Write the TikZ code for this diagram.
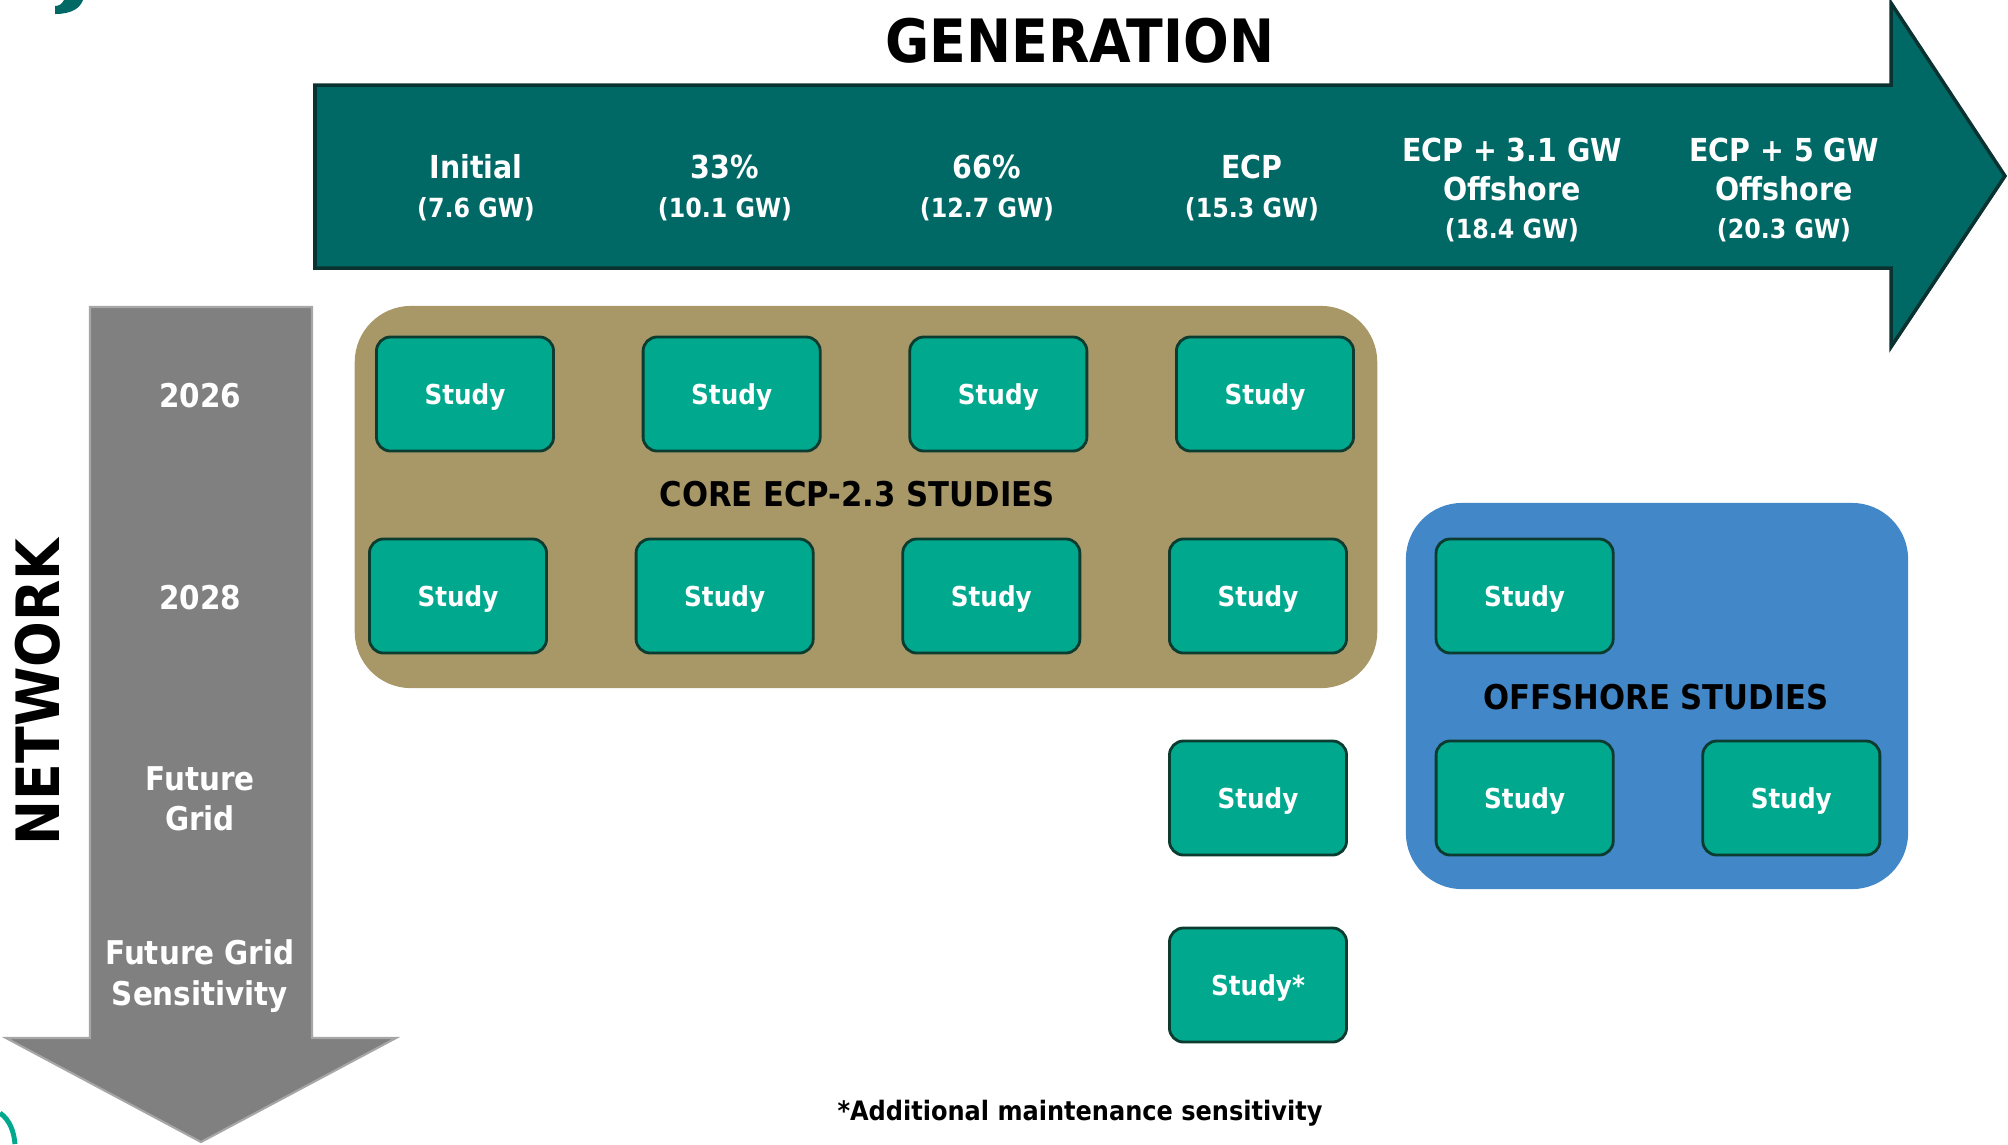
\documentclass[tikz,border=0pt]{standalone}
\usepackage{fontspec}
\setmainfont{DejaVu Sans Condensed}
\definecolor{genteal}{RGB}{0,105,102}
\definecolor{genline}{RGB}{10,50,48}
\definecolor{studyfill}{RGB}{0,168,142}
\definecolor{studyline}{RGB}{12,60,48}
\definecolor{coretan}{RGB}{168,152,104}
\definecolor{offblue}{RGB}{66,135,200}
\definecolor{netgrey}{RGB}{128,128,128}

\begin{document}
\begin{tikzpicture}[x=0.01cm,y=-0.01cm]
    \tikzstyle{study}=[
        draw=studyline,
        fill=studyfill,
        line width=0.8pt,
        rounded corners=4pt,
        minimum width=1.77cm,
        minimum height=1.14cm,
        text=white,
        text depth=0pt,
        font=\bfseries\fontsize{7.8}{10}\selectfont]
    \tikzstyle{head}=[text=white, align=center, font=\bfseries\fontsize{9}{11}\selectfont]
    \tikzstyle{row}=[text=white, align=center, font=\bfseries\fontsize{9.3}{11.5}\selectfont]
    \tikzstyle{group}=[rounded corners=16pt, inner sep=0pt]
    \tikzstyle{title}=[font=\bfseries\fontsize{17}{20}\selectfont]
    \tikzstyle{label}=[font=\bfseries\fontsize{9.7}{12}\selectfont]
    \newcommand{\gw}[1]{\\{\fontsize{7.5}{9}\selectfont(#1 GW)}}

    \useasboundingbox (0,0) rectangle (2008,1144);
    % bits of the logo
    \fill[genteal] (55,14) .. controls (72,14) and (80,8) .. (83,0) -- (64,0)
        .. controls (62,4) and (59,6) .. (55,6) -- cycle;
    \draw[studyfill, line width=1.4pt] (0,1113) .. controls (10,1120) and (14,1132) .. (15,1144);

    % arrows
    \draw[fill=genteal, draw=genline, line width=1pt] (315,85) -- (1891,85) -- (1891,3)
        -- (2005,176) -- (1891,347) -- (1891,268) -- (315,268) -- cycle;
    \draw[fill=netgrey, draw=black!35, line width=0.6pt] (90,307) -- (312,307) -- (312,1038)
        -- (396,1038) -- (201,1142) -- (6,1038) -- (90,1038) -- cycle;
    \node[title] (gen) at (1080,41) {GENERATION};
    \node[title, rotate=90] (net) at (38,692) {NETWORK};

    \node[head] (c0) at (476,188) {Initial\gw{7.6}};
    \node[head] (c1) at (725,188) {33\%\gw{10.1}};
    \node[head] (c2) at (987,188) {66\%\gw{12.7}};
    \node[head] (c3) at (1252,188) {ECP\gw{15.3}};
    \node[head] (c4) at (1512,190) {ECP + 3.1 GW\\Offshore\gw{18.4}};
    \node[head] (c5) at (1784,190) {ECP + 5 GW\\Offshore\gw{20.3}};

    \node[row] (r0) at (200,396) {2026};
    \node[row] (r1) at (200,598) {2028};
    \node[row] (r2) at (200,799) {Future\\Grid};
    \node[row] (r3) at (200,976) {Future Grid\\Sensitivity};

    % study groups
    \node[group, fill=coretan, minimum width=10.22cm, minimum height=3.82cm] (core) at (866,497) {};
    \node[group, fill=offblue, minimum width=5.02cm, minimum height=3.86cm] (off) at (1657,696) {};
    \node[label] (corel) at (857,494) {CORE ECP-2.3 STUDIES};
    \node[label] (offl) at (1656,697) {OFFSHORE STUDIES};

    \node[study] (s0) at (465,394) {Study};
    \node[study, right of=s0, node distance=2.665cm] (s1) {Study};
    \node[study, right of=s1, node distance=2.665cm] (s2) {Study};
    \node[study, right of=s2, node distance=2.665cm] (s3) {Study};
    \node[study] (s4) at (458,596) {Study};
    \node[study, right of=s4, node distance=2.665cm] (s5) {Study};
    \node[study, right of=s5, node distance=2.665cm] (s6) {Study};
    \node[study, right of=s6, node distance=2.665cm] (s7) {Study};
    \node[study, right of=s7, node distance=2.665cm] (s8) {Study};
    \node[study] (s9) at (1258,798) {Study};
    \node[study, right of=s9, node distance=2.665cm] (s10) {Study};
    \node[study, right of=s10, node distance=2.665cm] (s11) {Study};
    \node[study] (s12) at (1258,985) {Study*};

    \node[font=\bfseries\fontsize{7.6}{10}\selectfont] (note) at (1080,1113) {*Additional maintenance sensitivity};
\end{tikzpicture}
\end{document}
